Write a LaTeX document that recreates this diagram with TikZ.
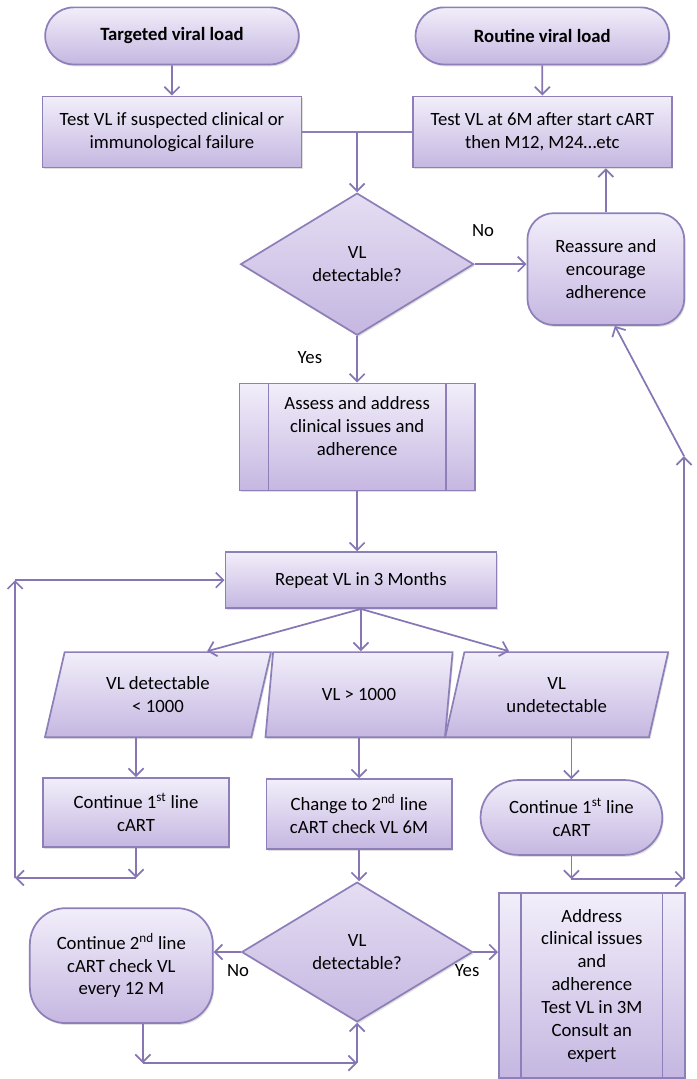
\documentclass[tikz,border=0pt]{standalone}
\usepackage{fontspec}
\setmainfont{Carlito}
\usepackage{tikz}
\usetikzlibrary{arrows.meta,positioning,calc,shapes.geometric,shapes.misc,shadows}
\definecolor{vlline}{RGB}{134,118,180}
\definecolor{vledge}{RGB}{142,127,184}
\definecolor{vltop}{RGB}{242,238,250}
\definecolor{vlbot}{RGB}{197,183,225}

\begin{document}
\begin{tikzpicture}[font=\fontsize{14.1}{17.2}\selectfont,
  box/.style={draw=vledge,line width=1.3pt,top color=vltop,bottom color=vlbot,align=center,
    inner sep=2pt,minimum width=#1,
    drop shadow={shadow xshift=1pt,shadow yshift=-1.4pt,opacity=0.25}},
  box/.default=4.9cm,
  term/.style={box=#1,rounded rectangle},
  soft/.style={box=#1,rounded corners=0.8cm},
  dec/.style={box=#1,diamond,aspect=1.65,inner sep=0pt,top color=vltop!70!vlbot},
  io/.style={box=#1,trapezium,trapezium left angle=63,trapezium right angle=117,
    trapezium stretches body,inner sep=1pt},
  arr/.style={-{Straight Barb[length=2mm,width=4mm]},draw=vlline,line width=1.3pt},
  ln/.style={draw=vledge,line width=1.3pt},
  tag/.style={inner sep=1pt}]
\useasboundingbox (0,0) rectangle (18.42,-28.55);
% two entry points
\node[term=6.85cm,minimum height=1.51cm,font=\fontsize{14.1}{17.2}\selectfont\bfseries] (tgt) at (4.55,-0.95) {Targeted viral load};
\node[term=6.85cm,minimum height=1.51cm,font=\fontsize{14.1}{17.2}\selectfont\bfseries] (rtn) at (14.35,-0.95) {Routine viral load};
\node[box=6.85cm,minimum height=1.88cm] (testA) at (4.55,-3.49)
  {Test VL if suspected clinical or\\immunological failure};
\node[box=6.85cm,minimum height=1.88cm] (testB) at (14.35,-3.49)
  {Test VL at 6M after start cART\\then M12, M24…etc};
\draw[arr] (tgt) -- (testA);
\draw[arr] (rtn) -- (testB);
% first check
\node[dec=6.17cm,minimum height=3.76cm] (dia1) at (9.45,-6.99) {VL\\detectable?};
\node[soft=4.15cm,minimum height=2.96cm,rounded corners=0.7cm] (reas) at (16.03,-7.12)
  {Reassure and\\encourage\\adherence};
\draw[ln] (testA.east) -- (testB.west);
\coordinate (jn) at (testA.east -| dia1.north);
\draw[arr] (jn) -- (dia1.north);
\draw[arr] (dia1.east) -- (dia1.east -| reas.west);
\node[tag] at (12.78,-6.09) {No};
\draw[arr] (reas.north) -- (reas.north |- testB.south);
\node[box=6.22cm,minimum height=2.83cm] (assess) at (9.45,-11.56)
  {Assess and address\\clinical  issues and\\adherence\rule[-0.58cm]{0pt}{0pt}};
\draw[ln] ([xshift=0.79cm]assess.north west) -- ([xshift=0.79cm]assess.south west);
\draw[ln] ([xshift=-0.79cm]assess.north east) -- ([xshift=-0.79cm]assess.south east);
\draw[arr] (dia1.south) -- (assess.north);
\node[tag] at (8.20,-9.47) {Yes};
% repeat and the three results
\node[box=7.17cm,minimum height=1.48cm] (rep) at (9.55,-15.35) {Repeat VL in 3 Months};
\draw[arr] (assess.south) -- (rep.north -| assess.south);
\node[io=5.98cm,minimum height=2.25cm] (p1) at (4.18,-18.38) {VL detectable\\< 1000};
\node[io=4.95cm,minimum height=2.25cm] (p2) at (9.50,-18.38) {VL > 1000};
\node[io=5.90cm,minimum height=2.25cm] (p3) at (14.73,-18.38) {VL\\undetectable};
\draw[arr] (rep.south) -- ([xshift=1.3cm]p1.north);
\draw[arr] (rep.south) -- (rep.south |- p2.north);
\draw[arr] (rep.south) -- ([xshift=-1.26cm]p3.north);
\node[box=4.92cm,minimum height=1.83cm] (c1) at (3.60,-21.50)
  {Continue 1\textsuperscript{st} line\\cART};
\node[box=4.90cm,minimum height=1.85cm] (c2) at (9.50,-21.54)
  {Change to 2\textsuperscript{nd} line\\cART check VL 6M};
\node[term=4.95cm,minimum height=1.98cm] (c3) at (15.12,-21.63)
  {Continue 1\textsuperscript{st} line\\cART};
\draw[arr] (p1.south -| c1.north) -- (c1.north);
\draw[arr] (p2.south -| c2.north) -- (c2.north);
\draw[arr] (p3.south -| c3.north) -- (c3.north);
% loop back to repeat
\coordinate (lc) at (0.40,-23.23);
\coordinate (lt) at (0.40,-15.35);
\draw[arr] (c1.south) -- (c1.south |- lc);
\draw[arr] (c1.south |- lc) -- (lc);
\draw[arr] (lc) -- (lt);
\draw[arr] (lt) -- (rep.west);
% loop up to reassure
\coordinate (rc) at (18.10,-23.26);
\coordinate (rt) at (18.10,-12.07);
\draw[arr] (c3.south) -- (c3.south |- rc);
\draw[arr] (c3.south |- rc) -- (rc);
\draw[arr] (rc) -- (rt);
\draw[arr] (rt) -- ([xshift=0.24cm]reas.south);
% second check
\node[dec=6.11cm,minimum height=3.70cm] (dia2) at (9.45,-25.19) {VL\\detectable?};
\node[soft=4.84cm,minimum height=3.04cm,rounded corners=0.95cm] (c4) at (3.21,-25.55)
  {Continue 2\textsuperscript{nd}  line\\cART check VL\\every 12 M};
\node[box=4.92cm,minimum height=4.90cm] (addr) at (15.66,-26.08)
  {Address\\clinical issues\\and\\adherence\\Test VL in 3M\\Consult an\\expert};
\draw[ln] ([xshift=0.61cm]addr.north west) -- ([xshift=0.61cm]addr.south west);
\draw[ln] ([xshift=-0.61cm]addr.north east) -- ([xshift=-0.61cm]addr.south east);
\draw[arr] (c2.south) -- (c2.south |- dia2.north);
\draw[arr] (dia2.west) -- (dia2.west -| c4.east);
\node[tag] at (6.30,-25.67) {No};
\draw[arr] (dia2.east) -- (dia2.east -| addr.west);
\node[tag] at (12.36,-25.67) {Yes};
\coordinate (bl) at (3.78,-28.13);
\draw[arr] (c4.south -| bl) -- (bl);
\draw[arr] (bl) -- (bl -| dia2.south);
\draw[arr] (bl -| dia2.south) -- (dia2.south);
\end{tikzpicture}
\end{document}
